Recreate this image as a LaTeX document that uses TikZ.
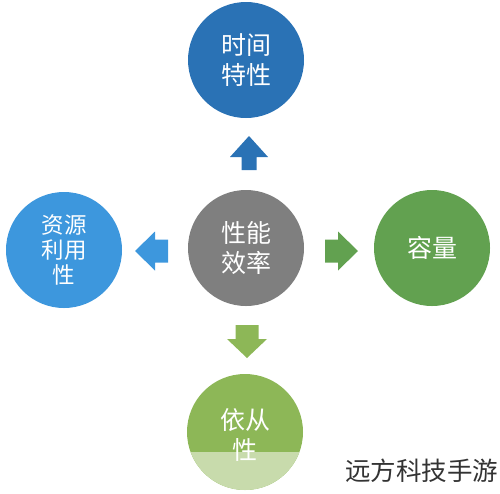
\documentclass[tikz,border=0pt]{standalone}
\usepackage{fontspec}
\newfontfamily\cjk{Noto Sans CJK SC}
\definecolor{cTop}{HTML}{2A72B5}
\definecolor{cLeft}{HTML}{3D97DD}
\definecolor{cMid}{HTML}{7F7F7F}
\definecolor{cRight}{HTML}{62A150}
\definecolor{cBot}{HTML}{8DB757}
\definecolor{cBotL}{HTML}{C8DBAC}
\definecolor{cMark}{HTML}{333333}
\begin{document}
\begin{tikzpicture}[x=1pt,y=-1pt,
  bubble/.style={circle,minimum size=116pt,inner sep=0pt,text=white,align=center,
    font=\cjk\fontsize{25}{30}\selectfont},
  smallbubble/.style={bubble,font=\cjk\fontsize{22.5}{25}\selectfont},
  wmtext/.style={text=cMark,font=\cjk\fontsize{25.5}{28}\selectfont,inner sep=0pt,anchor=west}]
\useasboundingbox (0,0) rectangle (500,493);
% circles
\node[bubble,fill=cMid] (mid) at (246,248) {性能\\效率};
\node[bubble,fill=cTop] (top) at (246,60) {时间\\特性};
\node[smallbubble,fill=cLeft] (left) at (64,250) {资源\\利用\\性};
\node[bubble,fill=cRight] (right) at (432,248) {容量};
\node[bubble,fill=cBot,
  path picture={\fill[cBotL] (path picture bounding box.south west) rectangle ([yshift=-20pt]path picture bounding box.east);}]
  (bot) at (245,432) {};
\node[text=white,align=center,font=\cjk\fontsize{25}{30}\selectfont] (bottxt) at (245,435) {依从\\性};
% block arrows
\coordinate (upA) at (249,136);
\fill[cTop] (upA) -- ++(19,21) -- ++(-11.5,0) -- ++(0,13) -- ++(-15,0) -- ++(0,-13) -- ++(-11.5,0) -- cycle;
\coordinate (leftA) at (135,251);
\fill[cLeft] (leftA) -- ++(20,-19.5) -- ++(0,8) -- ++(13,0) -- ++(0,23) -- ++(-13,0) -- ++(0,8) -- cycle;
\coordinate (rightA) at (358,251);
\fill[cRight] (rightA) -- ++(-20,-19.5) -- ++(0,8) -- ++(-13,0) -- ++(0,23) -- ++(13,0) -- ++(0,8) -- cycle;
\coordinate (downA) at (247,358);
\fill[cBot] (downA) -- ++(-20,-19) -- ++(8.5,0) -- ++(0,-14) -- ++(23,0) -- ++(0,14) -- ++(8.5,0) -- cycle;
% watermark
\node[wmtext] (wm) at (345,471) {远方科技手游};
\end{tikzpicture}
\end{document}
